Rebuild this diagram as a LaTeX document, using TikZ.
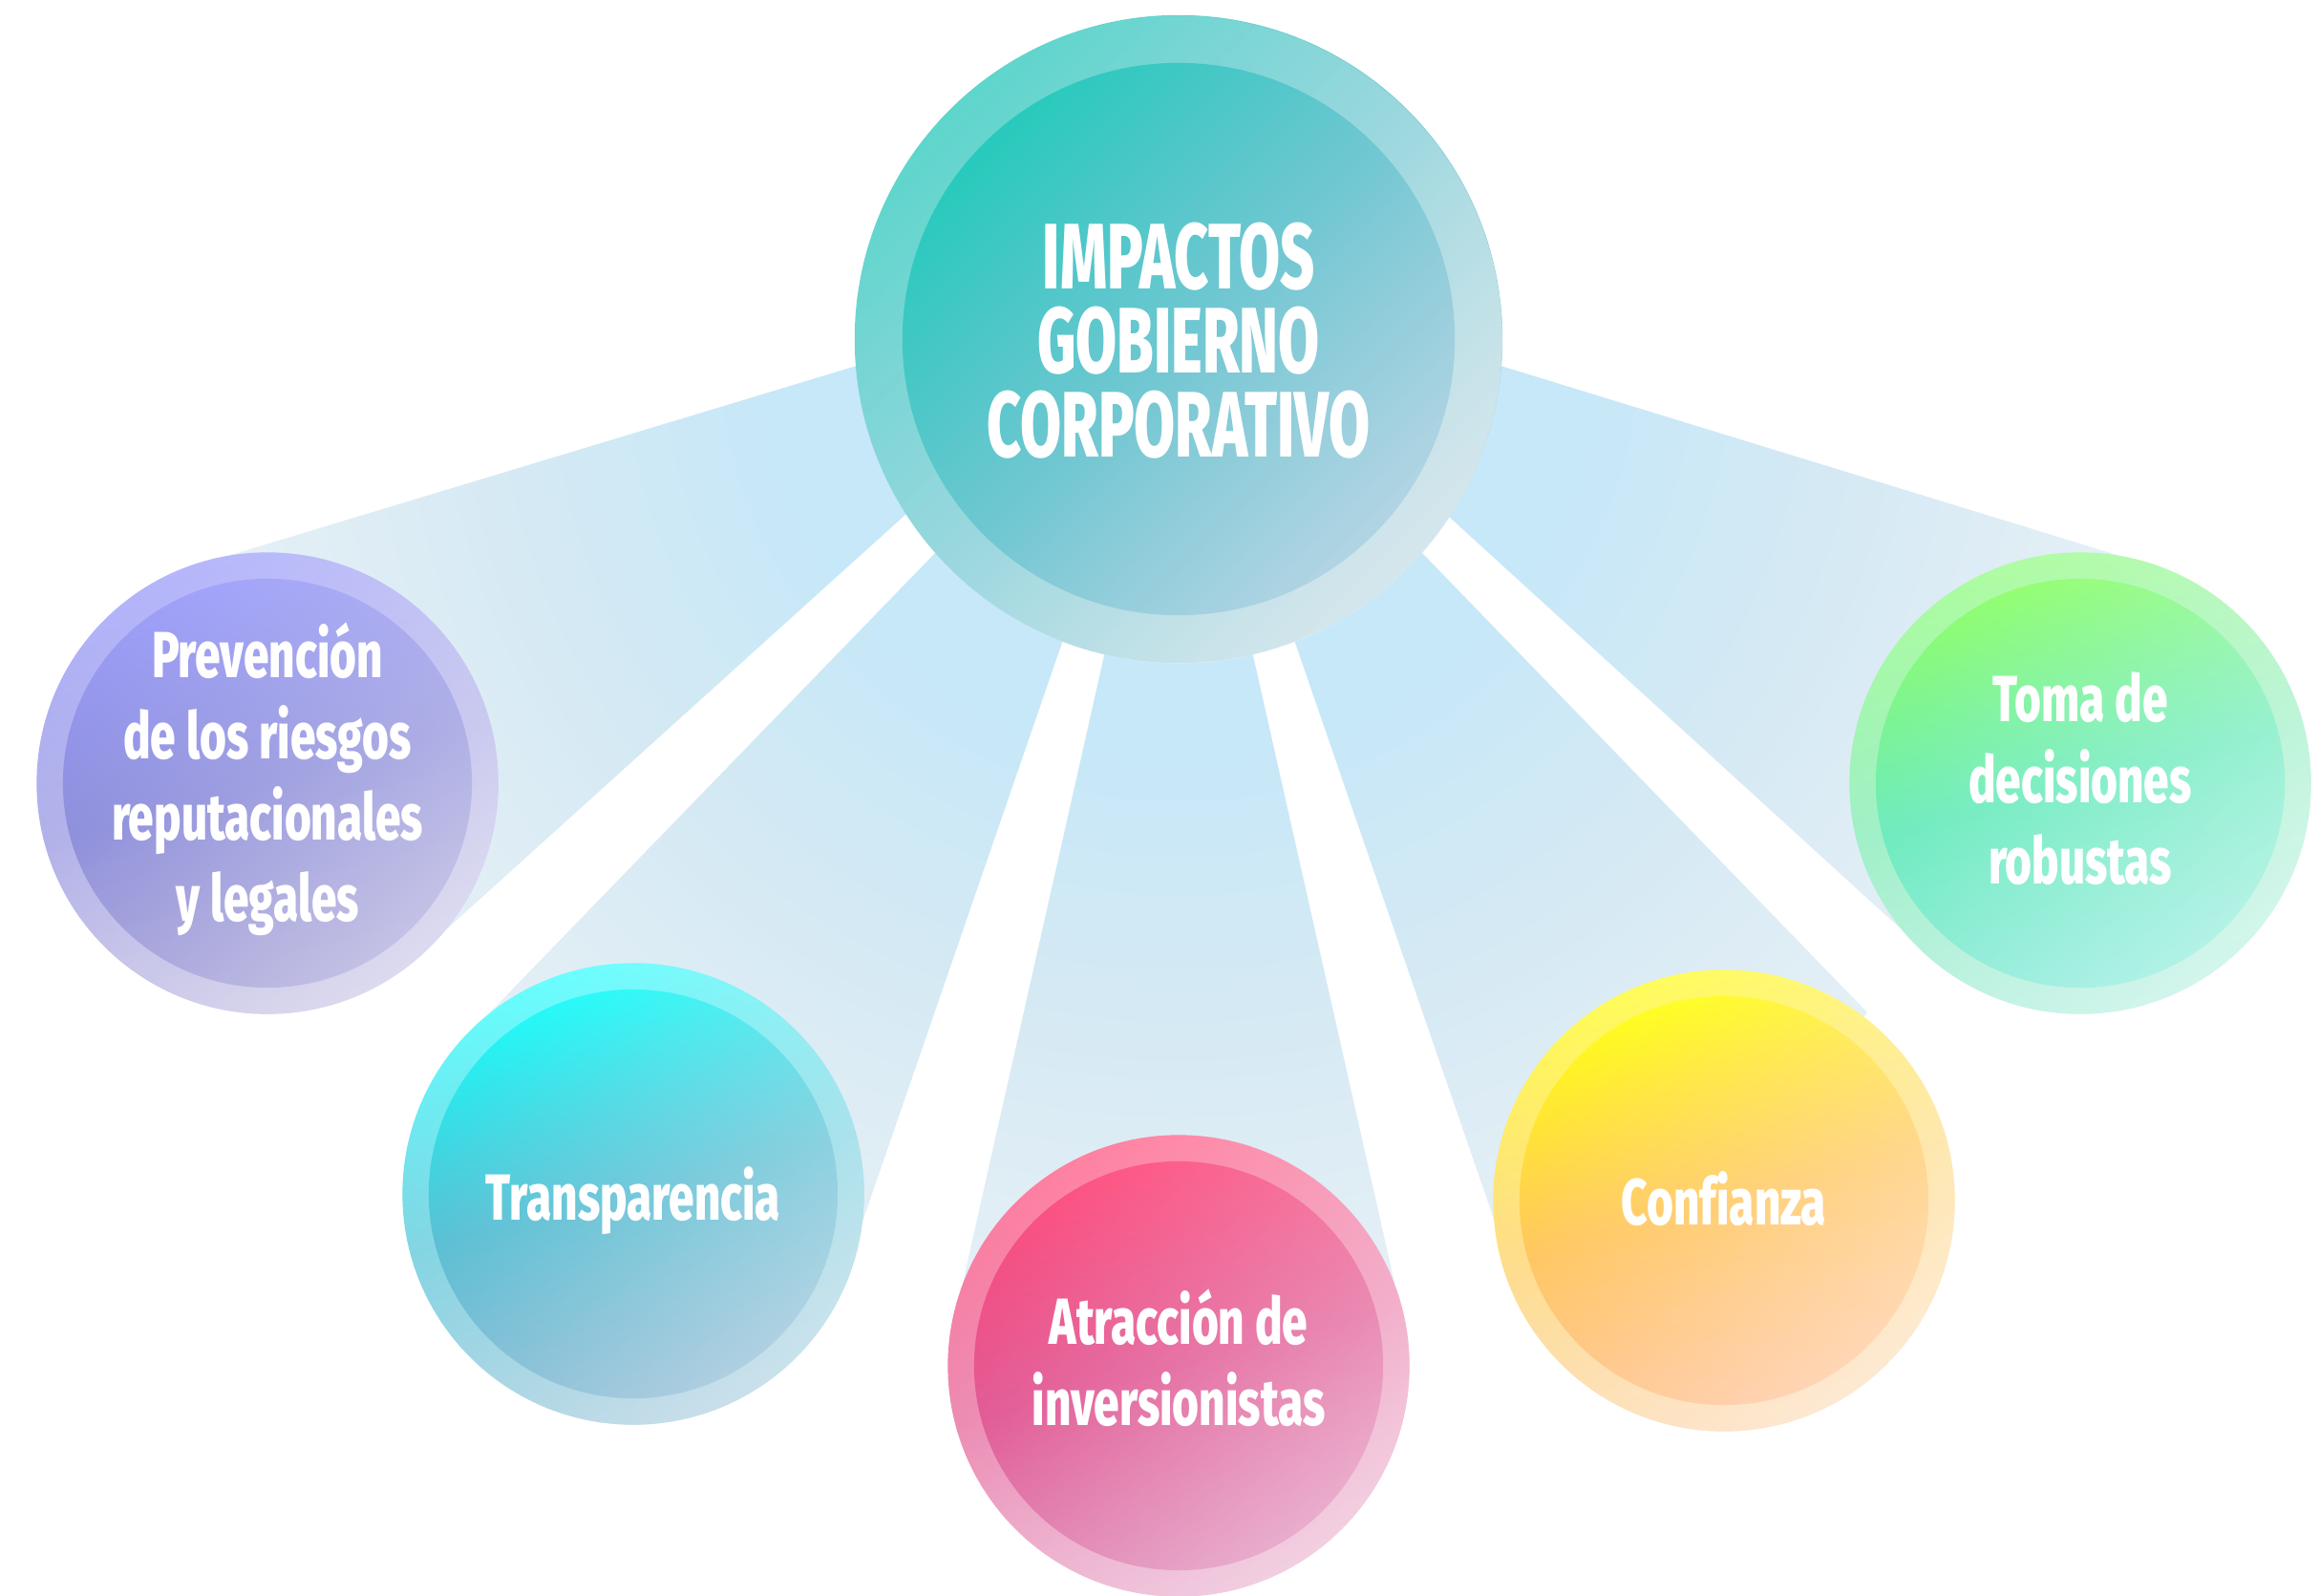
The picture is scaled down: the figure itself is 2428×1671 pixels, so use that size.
\documentclass[tikz,border=0pt]{standalone}
\usepackage{fontspec}
\usetikzlibrary{fadings}
\newfontfamily\titlefont{Fira Sans}[FakeStretch=0.64, BoldFont={Fira Sans ExtraBold}]
\newfontfamily\labfont{Fira Sans}[FakeStretch=0.70, Ligatures=NoCommon, BoldFont={Fira Sans ExtraBold}]
\definecolor{bmA}{HTML}{C6E8F8}
\definecolor{bmB}{HTML}{D4E9F4}
\definecolor{bmC}{HTML}{E4EFF6}
\definecolor{bmD}{HTML}{F4F8FB}
\pgfdeclareradialshading{beamshade}{\pgfpoint{0bp}{0bp}}{color(0bp)=(bmA); color(9bp)=(bmA); color(15bp)=(bmB); color(21.5bp)=(bmC); color(25bp)=(bmD); color(50bp)=(bmD)}
\tikzfading[name=wfade, top color=transparent!100, middle color=transparent!100, bottom color=transparent!45]
\tikzfading[name=wfadec, top color=transparent!100, middle color=transparent!100, bottom color=transparent!48]
\definecolor{cRa}{HTML}{5ED6CC}\definecolor{cRm}{HTML}{78CAD3}\definecolor{cRb}{HTML}{A8CDDA}
\definecolor{cDa}{HTML}{1FC8BB}\definecolor{cDm}{HTML}{3DB4C2}\definecolor{cDb}{HTML}{6AAECB}
\definecolor{pRa}{HTML}{B4B5FB}\definecolor{pRm}{HTML}{A6A6E6}\definecolor{pRb}{HTML}{B5B0DC}
\definecolor{pDa}{HTML}{9C9EF9}\definecolor{pDm}{HTML}{7C7DD6}\definecolor{pDb}{HTML}{8580C8}
\definecolor{tRa}{HTML}{66FEFE}\definecolor{tRm}{HTML}{70CFDF}\definecolor{tRb}{HTML}{8DBDD4}
\definecolor{tDa}{HTML}{1CFAF8}\definecolor{tDm}{HTML}{40B4CC}\definecolor{tDb}{HTML}{5C9EC2}
\definecolor{aRa}{HTML}{FF80A0}\definecolor{aRm}{HTML}{EA7AA8}\definecolor{aRb}{HTML}{E398C0}
\definecolor{aDa}{HTML}{FD4E7E}\definecolor{aDm}{HTML}{DD4084}\definecolor{aDb}{HTML}{D25898}
\definecolor{fRa}{HTML}{FFFC58}\definecolor{fRm}{HTML}{FED878}\definecolor{fRb}{HTML}{FCCFA0}
\definecolor{fDa}{HTML}{FFFD18}\definecolor{fDm}{HTML}{FFBE45}\definecolor{fDb}{HTML}{FFAA68}
\definecolor{kRa}{HTML}{ADFCA0}\definecolor{kRm}{HTML}{92EEC0}\definecolor{kRb}{HTML}{A0EBD8}
\definecolor{kDa}{HTML}{8EFE6C}\definecolor{kDm}{HTML}{56E8B4}\definecolor{kDb}{HTML}{62E4CE}
\begin{document}
\begin{tikzpicture}[x=0.01cm,y=-0.01cm,
  bigring/.style={circle, inner sep=0pt, minimum size=6.78cm},
  bigdisc/.style={circle, inner sep=0pt, minimum size=5.78cm},
  ring/.style={circle, inner sep=0pt, minimum size=4.83cm},
  disc/.style={circle, inner sep=0pt, minimum size=4.28cm},
  tri/.style n args={3}{top color=#1, bottom color=#3, middle color=#2},
  titletext/.style={text=white, align=center, inner sep=0pt, font=\titlefont\bfseries\fontsize{27.7}{25}\selectfont},
  labtext/.style={text=white, align=center, inner sep=0pt, font=\labfont\bfseries\fontsize{19.4}{24.2}\selectfont}]
\useasboundingbox (0,0) rectangle (2428,1671);
\fill[white] (0,0) rectangle (2428,1671);
\coordinate (C) at (1234,355);
\coordinate (P) at (280,820);
\coordinate (T) at (663,1250);
\coordinate (A) at (1234,1430);
\coordinate (F) at (1805,1257);
\coordinate (K) at (2178,820);
% beams
\begin{scope}
\clip (C) -- (897,383) -- (232,584) -- (P) -- (463,977) -- (950,537) -- cycle
      (C) -- (980,578) -- (513,1060) -- (T) -- (902,1282) -- (1113,670) -- cycle
      (C) -- (1157,682) -- (1008,1343) -- (A) -- (1460,1343) -- (1311,682) -- cycle
      (C) -- (1355,670) -- (1566,1282) -- (F) -- (1955,1060) -- (1488,578) -- cycle
      (C) -- (1571,383) -- (2226,584) -- (K) -- (1995,977) -- (1516,540) -- cycle;
\shade[shading=beamshade] (C) circle (11.5cm);
\end{scope}
% central circle
\node[bigring, tri={cRa}{cRm}{cRb}, shading angle=45] (cring) at (C) {};
\node[bigdisc, tri={cDa}{cDm}{cDb}, shading angle=45] (cdisc) at (C) {};
\fill[white, path fading=wfadec, fading angle=45] (C) circle (3.39cm);
\node[titletext] (ctext) at (1234,357) {IMPACTOS\\GOBIERNO\\CORPORATIVO};
% Prevencion
\node[ring, tri={pRa}{pRm}{pRb}, shading angle=15] (pring) at (P) {};
\node[disc, tri={pDa}{pDm}{pDb}, shading angle=15] (pdisc) at (P) {};
\fill[white, path fading=wfade, fading angle=45] (P) circle (2.415cm);
\node[labtext] (ptext) at (280,816) {Prevención\\de los riesgos\\reputacionales\\y legales};
% Transparencia
\node[ring, tri={tRa}{tRm}{tRb}, shading angle=15] (tring) at (T) {};
\node[disc, tri={tDa}{tDm}{tDb}, shading angle=15] (tdisc) at (T) {};
\fill[white, path fading=wfade, fading angle=45] (T) circle (2.415cm);
\node[labtext] (ttext) at (663,1257) {Transparencia};
% Atraccion
\node[ring, tri={aRa}{aRm}{aRb}, shading angle=15] (aring) at (A) {};
\node[disc, tri={aDa}{aDm}{aDb}, shading angle=15] (adisc) at (A) {};
\fill[white, path fading=wfade, fading angle=45] (A) circle (2.415cm);
\node[labtext] (atext) at (1234,1422) {Atracción de\\inversionistas};
% Confianza
\node[ring, tri={fRa}{fRm}{fRb}, shading angle=15] (fring) at (F) {};
\node[disc, tri={fDa}{fDm}{fDb}, shading angle=15] (fdisc) at (F) {};
\fill[white, path fading=wfade, fading angle=45] (F) circle (2.415cm);
\node[labtext] (ftext) at (1805,1255) {Confianza};
% Toma de decisiones
\node[ring, tri={kRa}{kRm}{kRb}, shading angle=15] (kring) at (K) {};
\node[disc, tri={kDa}{kDm}{kDb}, shading angle=15] (kdisc) at (K) {};
\fill[white, path fading=wfade, fading angle=45] (K) circle (2.415cm);
\node[labtext] (ktext) at (2178,815) {Toma de\\decisiones\\robustas};
\end{tikzpicture}
\end{document}
